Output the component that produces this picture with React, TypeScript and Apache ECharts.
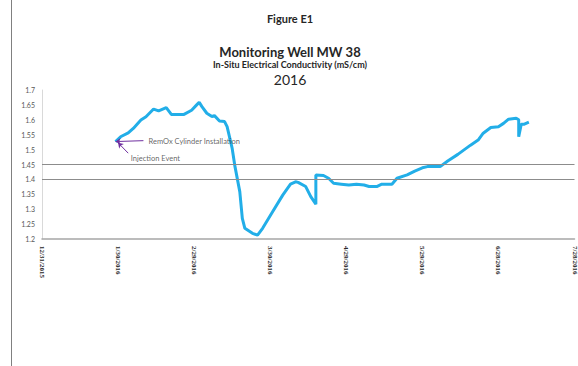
import React, { useEffect, useRef } from "react";
import * as echarts from "echarts";

// Monitoring Well MW 38 – in-situ electrical conductivity readings (mS/cm), 2016
const readingDates = [
  "2016-01-29", "2016-01-31", "2016-02-03", "2016-02-05", "2016-02-08", "2016-02-10",
  "2016-02-13", "2016-02-15", "2016-02-18", "2016-02-20", "2016-02-23", "2016-02-25",
  "2016-02-28", "2016-03-01", "2016-03-02", "2016-03-03", "2016-03-05", "2016-03-07",
  "2016-03-08", "2016-03-10", "2016-03-12", "2016-03-13", "2016-03-15", "2016-03-16",
  "2016-03-18", "2016-03-19", "2016-03-20", "2016-03-23", "2016-03-25", "2016-03-27",
  "2016-03-31", "2016-04-04", "2016-04-07", "2016-04-09", "2016-04-10", "2016-04-13",
  "2016-04-15", "2016-04-17", "2016-04-17", "2016-04-20", "2016-04-22", "2016-04-24",
  "2016-04-27", "2016-04-30", "2016-05-03", "2016-05-06", "2016-05-08", "2016-05-11",
  "2016-05-13", "2016-05-17", "2016-05-19", "2016-05-23", "2016-05-26", "2016-05-29",
  "2016-05-31", "2016-06-05", "2016-06-08", "2016-06-12", "2016-06-17", "2016-06-20",
  "2016-06-22", "2016-06-25", "2016-06-28", "2016-06-30", "2016-07-02", "2016-07-05",
  "2016-07-06", "2016-07-06", "2016-07-07", "2016-07-08", "2016-07-10",
];

const conductivity = [
  1.527, 1.543, 1.556, 1.571, 1.599, 1.61,
  1.636, 1.63, 1.641, 1.618, 1.618, 1.618,
  1.632, 1.65, 1.659, 1.645, 1.622, 1.611,
  1.614, 1.596, 1.594, 1.577, 1.504, 1.448,
  1.359, 1.269, 1.236, 1.219, 1.213, 1.236,
  1.292, 1.348, 1.384, 1.392, 1.39, 1.376,
  1.342, 1.317, 1.415, 1.413, 1.404, 1.387,
  1.384, 1.381, 1.384, 1.381, 1.376, 1.376,
  1.384, 1.384, 1.404, 1.415, 1.428, 1.439,
  1.443, 1.443, 1.462, 1.484, 1.515, 1.532,
  1.555, 1.574, 1.577, 1.588, 1.602, 1.605,
  1.6, 1.543, 1.585, 1.585, 1.592,
];

// reference levels drawn across the plot
const thresholds = [1.45, 1.4];

// x axis: 12/31/2015 .. 7/28/2016, one tick every 30 days
const axisStart = "2015-12-31";
const axisEnd = "2016-07-28";
const tickDays = 30;

// y axis
const yMin = 1.2;
const yMax = 1.7;
const yStep = 0.05;

// event annotations: text, label anchor [date, value], arrow tail [date, value], arrow head [date, value]
const annotationTexts = ["RemOx Cylinder Installation", "Injection Event"];
const annotationLabelAt: [string, number][] = [
  ["2016-02-11", 1.527],
  ["2016-02-04", 1.471],
];
const annotationTail: [string, number][] = [
  ["2016-02-09", 1.53],
  ["2016-02-03", 1.488],
];
const annotationHead: [string, number][] = [
  ["2016-01-29", 1.527],
  ["2016-01-30", 1.523],
];

const toDay = (s: string) => {
  const [y, m, d] = s.split("-").map(Number);
  return Date.UTC(y, m - 1, d) / 86400000;
};

const dayLabel = (v: number) => {
  const dt = new Date(Math.round(v) * 86400000);
  return `${dt.getUTCMonth() + 1}/${dt.getUTCDate()}/${dt.getUTCFullYear()}`;
};

export default function App() {
  const ref = useRef<HTMLDivElement>(null);

  useEffect(() => {
    if (!ref.current) return;
    const chart = echarts.init(ref.current, null, { renderer: "svg" });

    const seriesData = readingDates.map((d, i) => [toDay(d), conductivity[i]]);
    const purple = "#7030a0";

    chart.setOption({
      animation: false,
      backgroundColor: "#ffffff",
      grid: { left: 42, right: 1, top: 90, bottom: 127, containLabel: false },
      xAxis: {
        type: "value",
        min: toDay(axisStart),
        max: toDay(axisEnd),
        interval: tickDays,
        axisLine: { show: true, lineStyle: { color: "#a6a6a6", width: 1.5 } },
        axisTick: { show: false },
        splitLine: { show: false },
        axisLabel: {
          rotate: -90,
          formatter: (v: number) => dayLabel(v),
          fontFamily: "Liberation Serif",
          fontWeight: "bold",
          fontSize: 7,
          color: "#262626",
          margin: 7,
          showMinLabel: true,
          showMaxLabel: true,
        },
      },
      yAxis: {
        type: "value",
        min: yMin,
        max: yMax,
        interval: yStep,
        axisLine: { show: true, lineStyle: { color: "#d9d9d9", width: 1 } },
        axisTick: { show: false },
        splitLine: { show: false },
        axisLabel: {
          formatter: (v: number) => String(parseFloat(v.toFixed(2))),
          fontFamily: "Lato",
          fontSize: 7,
          color: "#595959",
          margin: 7,
        },
      },
      series: [
        {
          type: "line",
          data: seriesData,
          showSymbol: false,
          lineStyle: { color: "#22aee8", width: 3 },
          z: 3,
          markLine: {
            silent: true,
            symbol: "none",
            label: { show: false },
            lineStyle: { color: "#8c8c8c", width: 1.2, type: "solid" },
            data: thresholds.map((t) => ({ yAxis: t })),
          },
        },
        {
          type: "line",
          data: [],
          z: 4,
          markLine: {
            silent: true,
            symbol: ["none", "arrow"],
            symbolSize: 5,
            label: { show: false },
            lineStyle: { color: purple, width: 1, type: "solid" },
            data: annotationTail.map((t, i) => [
              { coord: [toDay(t[0]), t[1]] },
              { coord: [toDay(annotationHead[i][0]), annotationHead[i][1]] },
            ]),
          },
        },
        {
          type: "scatter",
          symbolSize: 0,
          z: 5,
          data: annotationLabelAt.map((a, i) => ({
            value: [toDay(a[0]), a[1]],
            name: annotationTexts[i],
          })),
          label: {
            show: true,
            position: "right",
            distance: 0,
            formatter: (p: any) => p.name,
            fontFamily: "Lato",
            fontSize: 7.5,
            color: "#404040",
          },
        },
      ],
      graphic: [
        {
          type: "line",
          shape: { x1: 11.5, y1: 0, x2: 11.5, y2: 366 },
          style: { stroke: "#808080", lineWidth: 1 },
        },
        {
          type: "text",
          x: 290,
          y: 18,
          style: {
            text: "Figure E1",
            fontFamily: "Lato",
            fontWeight: "bold",
            fontSize: 11,
            fill: "#262626",
            align: "center",
            verticalAlign: "middle",
          },
        },
        {
          type: "text",
          x: 290,
          y: 52,
          style: {
            text: "Monitoring Well MW 38",
            fontFamily: "Lato",
            fontWeight: "bold",
            fontSize: 13,
            fill: "#262626",
            align: "center",
            verticalAlign: "middle",
          },
        },
        {
          type: "text",
          x: 290,
          y: 64,
          style: {
            text: "In-Situ Electrical Conductivity (mS/cm)",
            fontFamily: "Lato",
            fontWeight: "bold",
            fontSize: 9,
            fill: "#262626",
            align: "center",
            verticalAlign: "middle",
          },
        },
        {
          type: "text",
          x: 290,
          y: 79,
          style: {
            text: "2016",
            fontFamily: "Lato",
            fontSize: 14,
            fill: "#262626",
            align: "center",
            verticalAlign: "middle",
          },
        },
      ],
    });

    return () => chart.dispose();
  }, []);

  return (
    <div
      ref={ref}
      style={{ position: "fixed", left: 0, top: 0, width: 578, height: 366 }}
    />
  );
}
